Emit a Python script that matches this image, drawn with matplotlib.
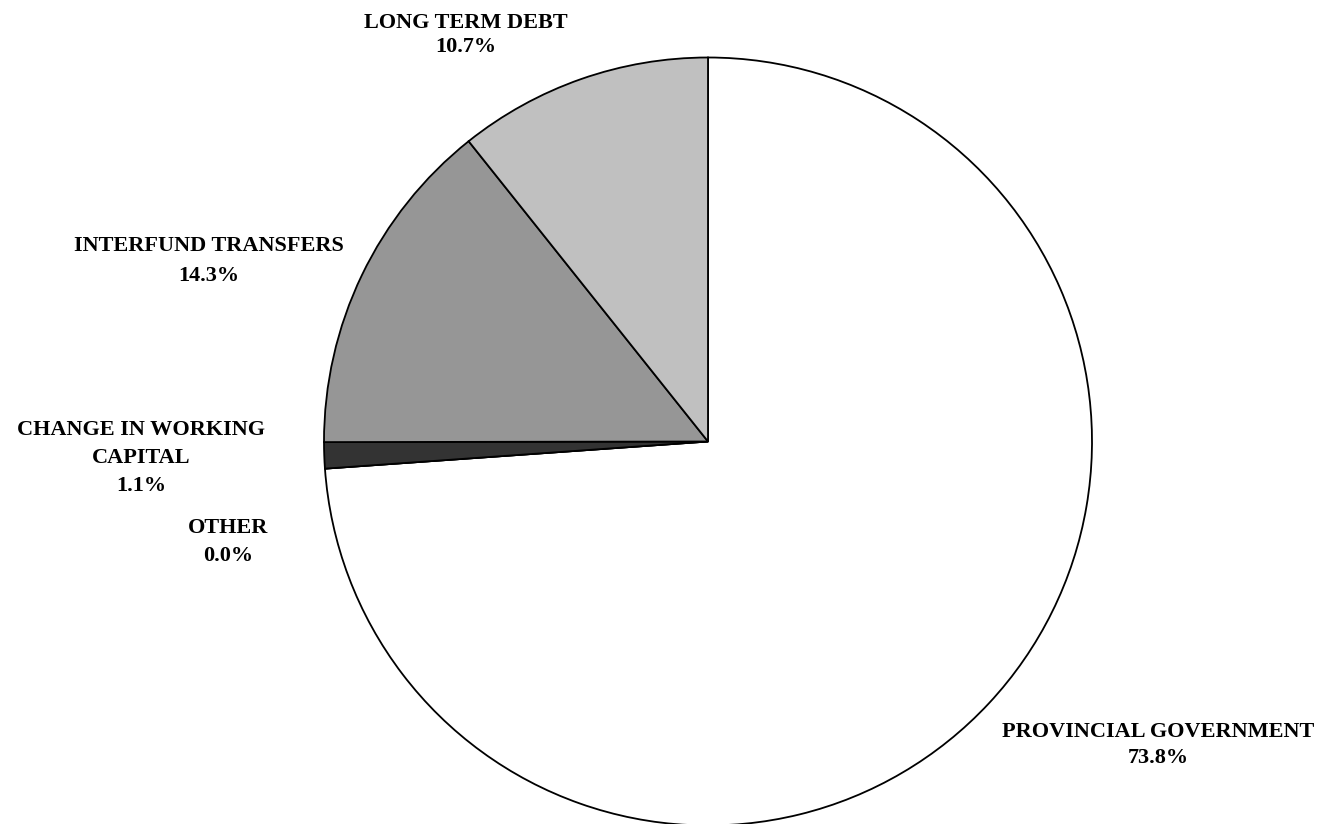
import matplotlib
matplotlib.use("Agg")
import matplotlib.pyplot as plt

categories = ["PROVINCIAL GOVERNMENT", "OTHER", "CHANGE IN WORKING\nCAPITAL", "INTERFUND TRANSFERS", "LONG TERM DEBT"]
values = [73.8, 0.0, 1.1, 14.3, 10.7]
colors = ["#FFFFFF", "#FFFFFF", "#333333", "#969696", "#C0C0C0"]

W, H = 1323, 824
fig = plt.figure(figsize=(W / 100, H / 100), dpi=100)
ax = fig.add_axes([0, 0, 1, 1])

cx, cy, r = 708, H - 441.5, 384
ax.pie(values, colors=colors, startangle=90, counterclock=False, center=(cx, cy), radius=r,
       wedgeprops=dict(edgecolor="black", linewidth=1.3), normalize=True, frame=True)
ax.set_xlim(0, W)
ax.set_ylim(0, H)
ax.set_aspect("equal")
ax.axis("off")

# label block centres (pixels from top-left) and line spacing
label_pos = [(1158.5, 745), (228, 542), (141, 458), (209, 261), (466, 35)]
spacing = [1.35, 1.5, 1.52, 1.62, 1.3]
font = dict(family="Liberation Serif", fontweight="bold", fontsize=16)
for cat, v, (x, y), ls in zip(categories, values, label_pos, spacing):
    ax.text(x, H - y, f"{cat}\n{v:.1f}%", ha="center", va="center", linespacing=ls, **font)

fig.savefig("out.png", dpi=100)
